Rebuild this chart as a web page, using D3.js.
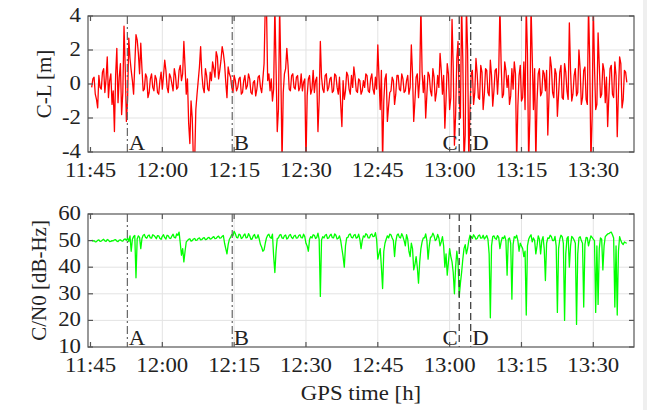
<!DOCTYPE html>
<html><head><meta charset="utf-8">
<script src="https://cdn.jsdelivr.net/npm/d3@7"></script>
<style>body{margin:0;background:#fff}svg{display:block}text{font-family:"Liberation Serif","Times New Roman",serif;fill:#222}</style>
</head><body><svg id="c" width="647" height="410"></svg>
<script>
// time in minutes after 11:45, sampled every 0.25 min starting at 0.25
const startMin = 0.25, stepMin = 0.25;
const xTickLabels = ["11:45","12:00","12:15","12:30","12:45","13:00","13:15","13:30"];
const xTickMinutes = [0,15,30,45,60,75,90,105];
const clTicks = [-4,-2,0,2,4];
const cnTicks = [10,20,30,40,50,60];
const events = ["A","B","C","D"];
const eventMinutes = [7.7, 29.6, 77.0, 79.4];
// C-L [m]
const clValues = [
 -0.2,0.3, 0.4,-0.6, -0.9,-1.4, 0.5,-0.2, -0.3,0.7, 0.9,-0.5, 0.3,1.6, -0.8,0.2, 0.6,-1.2, -0.4,-2.8,
 0.5,2.1, -1.1,0.4, 1.2,-1.8, -0.5,3.4, 1.0,-2.2, -0.9,2.7, 1.5,0.8, 0.2,-0.6, 1.1,2.9, 2.6,1.8,
 0.6,2.4, 0.9,-0.4, -0.3,0.6, 0.4,-0.8, -0.5,0.3, 0.6,-0.2, -0.4,0.5, 0.3,-0.5, -0.6,0.2, 0.7,-0.3,
 0.5,1.4, 0.8,-0.2, -0.5,0.6, 0.4,0.0, -0.4,0.9, 0.5,-0.3, -0.2,0.8, 1.1,0.2, 0.6,2.5, 1.0,-0.6,
 0.3,-2.3, -3.5,-1.0, -2.0,-4.6, -4.6,-1.5, -0.6,0.2, 1.0,2.2, 0.6,-0.2, -0.5,0.9, 0.5,-0.3, -0.4,0.7,
 0.2,1.3, 0.9,0.4, 1.9,1.6, 0.3,0.8, 1.4,2.2, 1.8,1.2, 0.1,-0.8, 1.0,0.6, 0.4,-0.2, -0.5,0.5,
 0.2,-0.4, -0.2,0.3, 0.4,-0.6, -0.5,0.2, 0.5,-0.3, -0.1,0.6, 0.3,-0.5, -0.6,0.1, 0.2,-0.7, -0.3,0.4,
 0.5,-0.2, -0.5,0.3, 1.2,4.6, 4.6,0.2, 0.6,-0.4, 0.3,-1.0, -0.3,4.6, 1.0,-2.8, -1.5,4.6, 0.8,-4.6,
 -0.5,0.6, 0.9,2.1, 1.1,-0.3, -0.4,0.5, 0.6,-0.2, -0.3,0.4, 0.5,-0.4, -0.2,0.6, -0.4,0.1, 0.3,-4.6,
 -0.7,0.3, 0.5,-0.6, -0.3,0.8, -0.5,0.2, 0.4,-2.8, -1.0,2.5, 0.4,-0.3, -0.5,0.5, 0.6,-0.4, -0.2,0.3,
 0.4,-0.5, -0.4,0.6, 0.5,-0.2, -0.6,0.4, -1.2,-2.5, 0.2,-0.9, -0.4,0.7, 0.5,-0.3, -0.6,0.5, -0.2,1.0,
 0.4,-0.4, -0.5,0.3, 0.2,-0.6, -0.4,0.2, -0.2,0.6, 0.5,-0.4, -0.5,0.3, 0.6,-0.3, -0.6,0.4, -0.3,2.3,
 0.4,-1.5, 0.8,-4.6, -1.0,0.3, 0.6,-2.2, -1.3,-0.5, -0.4,0.4, 0.2,-1.2, -0.6,0.5, 0.5,-0.3, -0.4,0.6,
 0.3,-0.5, -0.4,0.2, 0.5,-0.6, -0.2,2.3, 0.6,-2.2, -1.0,0.4, 0.6,-0.8, 0.3,4.6, 0.7,-0.5, 0.5,-2.0,
 -0.6,0.7, 0.5,-0.4, -0.7,0.9, 0.4,-1.0, -0.5,0.5, -0.2,1.8, 0.8,-0.6, 0.5,-2.6, -0.9,1.2, 0.6,-1.5,
 -0.8,3.8, 1.0,-3.6, -1.8,1.5, 2.5,-1.0, -2.0,4.6, 1.5,-4.6, -3.0,4.6, 2.0,-4.6, -1.5,0.6, 0.8,-1.2,
 -0.5,1.5, 0.6,-0.8, -0.9,1.1, 0.7,-1.5, -0.6,0.9, 0.8,-0.5, -0.7,1.4, 0.5,-1.3, -0.4,0.8, 0.9,-0.6,
 0.7,4.6, 1.2,-0.8, -0.6,1.3, 0.8,-0.2, 0.5,-1.2, -0.7,0.9, -0.3,1.3, 0.6,-4.6, -1.3,0.5, 1.1,-1.0,
 -0.8,1.3, -1.5,4.6, 1.8,-4.6, -2.0,4.6, 1.6,-1.5, 0.9,-4.6, -1.0,0.6, 0.9,-0.7, -0.5,0.8, 0.6,-0.4,
 0.8,-3.0, -0.7,1.6, 1.0,-0.5, -0.8,0.9, 0.6,-1.9, -0.6,0.7, 1.1,-0.8, -0.9,1.2, 0.7,-0.4, -0.9,3.6,
 0.8,-1.0, -0.6,0.5, 0.9,-0.7, -0.5,2.0, 0.9,-1.2, -0.8,0.8, 1.0,-0.9, -1.2,4.6, 1.5,-4.6, -2.0,4.6,
 1.0,-1.5, -1.2,3.0, 1.1,-0.8, -0.6,1.2, 0.8,-1.1, 0.4,-2.5, -0.7,0.9, 1.1,-0.6, -0.8,1.3, 0.5,-3.1,
 -0.5,1.6, 1.2,-1.4, -0.9,0.8, 0.7,0.1
];
// C/N0 [dB-Hz]
const cnValues = [
 50.2,49.8, 50.0,49.5, 49.6,50.1, 50.3,49.7, 49.8,50.2, 50.5,49.9, 49.7,50.4, 50.2,49.6, 49.7,50.0, 49.9,50.3,
 50.4,49.8, 49.6,50.2, 50.3,49.9, 49.8,50.5, 50.6,50.1, 51.0,49.6, 51.8,46.0, 50.5,51.5, 51.9,36.0, 50.6,51.8,
 51.2,47.0, 50.8,52.0, 52.3,51.2, 50.9,51.8, 52.1,51.0, 50.9,52.2, 51.9,51.4, 50.7,51.9, 51.8,50.8, 50.5,51.6,
 52.2,51.1, 50.6,52.0, 51.8,50.9, 50.8,51.7, 52.4,51.2, 51.0,52.5, 52.0,53.2, 49.0,44.5, 47.0,42.0, 46.0,49.5,
 50.0,50.5, 50.7,49.8, 50.0,50.6, 50.8,50.1, 50.2,50.8, 51.0,50.3, 50.4,50.9, 51.1,50.4, 50.5,51.0, 51.2,50.6,
 50.7,51.2, 51.5,50.7, 50.8,51.4, 51.7,50.9, 51.0,51.6, 51.9,49.0, 47.0,45.0, 48.5,50.5, 51.2,52.3, 51.8,53.5,
 52.6,51.2, 51.0,52.4, 52.2,50.8, 51.1,52.0, 52.5,51.0, 51.2,52.6, 51.8,50.5, 50.6,51.8, 52.3,50.9, 51.0,52.2,
 50.5,48.5, 47.5,46.0, 46.5,49.0, 51.0,52.0, 52.4,51.3, 50.9,52.4, 44.0,38.0, 46.0,50.8, 51.0,52.1, 52.3,51.0,
 50.8,51.8, 52.1,50.6, 51.0,52.0, 52.3,51.2, 50.8,51.7, 52.0,50.9, 51.0,51.9, 52.2,51.1, 51.0,52.4, 51.5,49.0,
 48.0,46.0, 50.5,51.5, 51.0,52.2, 52.0,50.8, 51.2,52.8, 50.5,29.0, 50.2,51.5, 51.0,52.0, 52.3,50.8, 51.0,51.9,
 52.4,51.1, 51.0,52.5, 52.0,50.6, 50.9,51.8, 50.0,47.0, 44.0,40.0, 48.0,51.0, 51.2,52.3, 52.5,51.2, 51.0,52.0,
 52.3,50.9, 51.2,52.4, 50.5,47.0, 50.0,51.8, 51.3,52.6, 52.2,51.0, 51.0,52.2, 52.5,51.5, 51.6,53.0, 50.5,43.0,
 45.0,47.0, 40.0,32.0, 46.0,49.0, 50.5,51.8, 51.0,52.4, 52.2,51.0, 50.0,44.0, 49.5,52.0, 52.5,51.3, 51.0,52.6,
 51.5,50.0, 48.0,52.2, 50.5,46.0, 44.0,49.0, 47.0,39.0, 41.0,44.0, 40.0,34.0, 42.0,47.0, 49.5,51.0, 51.0,52.5,
 50.0,43.0, 48.0,51.2, 51.5,52.8, 51.8,50.0, 50.5,52.3, 51.0,48.0, 49.5,51.5, 48.0,40.0, 45.0,37.0, 42.0,47.0,
 44.0,42.0, 38.0,30.0, 40.0,46.0, 42.0,29.0, 34.0,38.0, 43.0,47.0, 48.5,45.0, 47.0,50.0, 52.0,51.5, 50.8,52.2,
 51.5,50.5, 50.8,51.8, 52.1,50.9, 51.0,52.0, 50.6,51.2, 51.9,50.5, 45.0,21.0, 48.0,51.5, 51.8,50.8, 50.5,51.9,
 51.2,47.0, 49.5,51.2, 50.8,51.8, 50.0,37.0, 50.5,51.0, 49.0,28.0, 48.5,51.5, 51.0,52.0, 50.0,46.0, 49.0,48.0,
 47.0,44.0, 46.0,22.0, 48.0,50.5, 51.5,52.2, 49.5,51.0, 50.0,45.0, 48.0,51.8, 50.5,45.0, 50.0,51.5, 47.0,35.0,
 49.0,51.0, 50.8,52.0, 51.5,50.0, 50.0,51.6, 48.0,23.0, 47.0,50.5, 52.0,51.5, 49.0,20.0, 45.0,50.8, 51.5,40.0,
 48.0,51.6, 51.0,50.2, 49.0,18.5, 45.0,51.0, 51.5,50.0, 49.0,25.0, 48.5,51.2, 51.0,48.0, 50.0,51.8, 51.2,50.5,
 50.0,23.0, 48.0,26.0, 47.0,51.0, 50.5,39.0, 48.0,51.5, 52.0,52.5, 52.6,53.0, 53.2,52.2, 51.0,25.0, 48.0,22.0,
 46.0,51.5, 50.0,49.0, 48.5,49.5, 49.2,49.0
];

const svg = d3.select("#c");
svg.append("rect").attr("x",643).attr("y",0).attr("width",4).attr("height",410).attr("fill","#efefef");

const x = d3.scaleLinear().domain([-0.52, 113.5]).range([88, 634]);
const tOf = i => startMin + stepMin * i;
const SX = 1.14, FS = 20;

// horizontally stretched text, as in the reference raster
function htext(parent, px, py, anchor, str){
  return parent.append("text").attr("transform",`translate(${px},${py}) scale(${SX},1)`)
    .attr("text-anchor",anchor).attr("font-size",FS).text(str);
}

function panel(opts){
  const {top, bottom, yDomain, yTicks, values, color, ylabel, ylabelX, id, eventDash} = opts;
  const y = d3.scaleLinear().domain(yDomain).range([bottom, top]);
  const g = svg.append("g");
  g.append("g").selectAll("line").data(xTickMinutes.slice(1)).join("line")
    .attr("x1",d=>x(d)).attr("x2",d=>x(d)).attr("y1",top).attr("y2",bottom)
    .attr("stroke","#e3e3e3").attr("stroke-width",1);
  g.append("g").selectAll("line").data(yTicks.slice(1,-1)).join("line")
    .attr("x1",88).attr("x2",634).attr("y1",d=>y(d)).attr("y2",d=>y(d))
    .attr("stroke","#e3e3e3").attr("stroke-width",1);
  svg.append("clipPath").attr("id",id).append("rect")
    .attr("x",88).attr("y",top).attr("width",546).attr("height",bottom-top);
  const line = d3.line().x((d,i)=>x(tOf(i))).y(d=>y(d));
  g.append("path").datum(values).attr("d",line).attr("fill","none")
    .attr("stroke",color).attr("stroke-width",1.3).attr("stroke-linejoin","round")
    .attr("clip-path",`url(#${id})`);
  g.append("g").selectAll("line").data(eventMinutes).join("line")
    .attr("x1",d=>x(d)).attr("x2",d=>x(d)).attr("y1",top).attr("y2",bottom)
    .attr("stroke",(d,i)=>i<2?"#666":"#333").attr("stroke-width",1.2)
    .attr("stroke-dasharray",(d,i)=>i<2?"8,3,2,3":eventDash);
  events.forEach((ev,i)=>{
    const ex = x(eventMinutes[i]);
    htext(g, i===2 ? ex-1.5 : ex+1.5, bottom-2, i===2?"end":"start", ev);
  });
  g.append("rect").attr("x",88).attr("y",top).attr("width",546).attr("height",bottom-top)
    .attr("fill","none").attr("stroke","#555").attr("stroke-width",1.2);
  const tk = g.append("g").attr("stroke","#555").attr("stroke-width",1.2);
  xTickMinutes.forEach(m=>{
    tk.append("line").attr("x1",x(m)).attr("x2",x(m)).attr("y1",bottom).attr("y2",bottom-5);
    tk.append("line").attr("x1",x(m)).attr("x2",x(m)).attr("y1",top).attr("y2",top+5);
  });
  yTicks.forEach(v=>{
    tk.append("line").attr("x1",88).attr("x2",93).attr("y1",y(v)).attr("y2",y(v));
    tk.append("line").attr("x1",634).attr("x2",629).attr("y1",y(v)).attr("y2",y(v));
  });
  xTickLabels.forEach((lab,i)=> htext(g, x(xTickMinutes[i]), bottom+25, "middle", lab));
  yTicks.forEach(v=> htext(g, 81, y(v)+6, "end", String(v)));
  g.append("text").attr("transform",`translate(${ylabelX},${(top+bottom)/2}) rotate(-90)`)
    .attr("text-anchor","middle").attr("font-size",21).text(ylabel);
}

panel({top:16, bottom:152, yDomain:[-4,4], yTicks:clTicks, values:clValues,
  color:"#ff0000", ylabel:"C-L [m]", ylabelX:51, id:"clipA", eventDash:"8,3,2,3"});
panel({top:214, bottom:347, yDomain:[10,60], yTicks:cnTicks, values:cnValues,
  color:"#00ff00", ylabel:"C/N0 [dB-Hz]", ylabelX:46, id:"clipB", eventDash:"7,4"});

htext(svg, 361, 400, "middle", "GPS time [h]");
</script></body></html>
